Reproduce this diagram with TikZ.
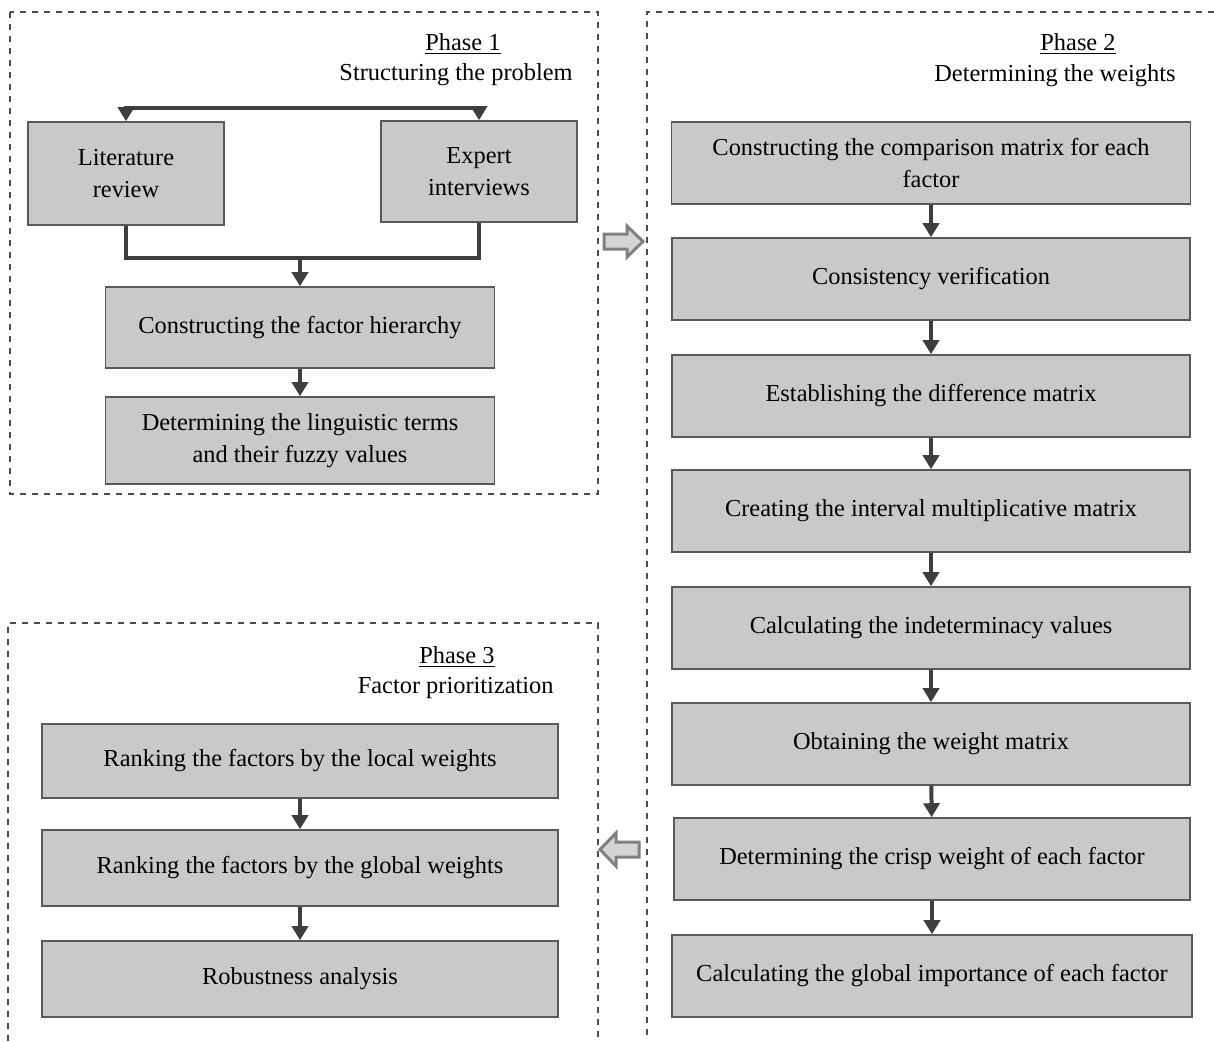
\documentclass[tikz,border=0pt]{standalone}
\usepackage{fontspec}
\setmainfont{Liberation Serif}
\usepackage{tikz}
\usetikzlibrary{arrows.meta}

\definecolor{boxgray}{RGB}{200,201,203}
\definecolor{linkgray}{RGB}{62,62,62}

\begin{document}
\begin{tikzpicture}[x=0.5pt,y=-0.5pt,
    >={Triangle[length=7pt,width=8pt]},
    stage/.style={rectangle,fill=boxgray,draw=black!65,line width=0.8pt,align=center,
      font=\fontsize{12.2}{16}\selectfont},
    link/.style={->,line width=2pt,draw=linkgray},
    joint/.style={line width=2pt,draw=linkgray},
    frame/.style={draw=black!70,line width=0.6pt,dash pattern=on 3pt off 3pt},
    title/.style={inner sep=0pt,font=\fontsize{12.2}{16}\selectfont},
    blockarrow/.style={fill=black!17,draw=black!50,line width=1.5pt,line join=miter}]
    \useasboundingbox (0,0) rectangle (1214,1041);

    % phase frames
    \draw[frame] (10,12) rectangle (598,494);
    \draw[frame] (647,1035) -- (647,12) -- (1214,12);
    \draw[frame] (8,1041) -- (8,623) -- (598,623) -- (598,1041);

    % phase 1
    \node[title] (p1) at (463,44) {\underline{Phase 1}};
    \node[title,anchor=east] (p1t) at (573,75) {Structuring the problem};
    \node[stage,minimum width=98pt,minimum height=51.5pt] (lit) at (126,173.5) {Literature\\review};
    \node[stage,minimum width=98pt,minimum height=50.5pt] (exp) at (479,171.5) {Expert\\interviews};
    \node[stage,minimum width=194.5pt,minimum height=40.5pt] (hier) at (300,327.5) {Constructing the factor hierarchy};
    \node[stage,minimum width=194.5pt,minimum height=43.5pt] (ling) at (300,440.5) {Determining the linguistic terms\\and their fuzzy values};
    \coordinate (split) at (300,108);
    \coordinate (merge) at (300,258);

    \draw[link] (split) -| (lit);
    \draw[link] (split) -| (exp);
    \draw[joint] (lit) |- (merge) -| (exp);
    \draw[link] (merge) -- (hier);
    \draw[link] (hier) -- (ling);

    % phase 2
    \node[title] (p2) at (1078,44) {\underline{Phase 2}};
    \node[title,anchor=east] (p2t) at (1176,76) {Determining the weights};
    \node[stage,minimum width=259.5pt,minimum height=41pt] (w1) at (931,163) {Constructing the comparison matrix for each\\factor};
    \node[stage,minimum width=259pt,minimum height=41pt] (w2) at (931,279) {Consistency verification};
    \node[stage,minimum width=259pt,minimum height=41pt] (w3) at (931,396) {Establishing the difference matrix};
    \node[stage,minimum width=259pt,minimum height=41pt] (w4) at (931,511) {Creating the interval multiplicative matrix};
    \node[stage,minimum width=259pt,minimum height=41pt] (w5) at (931,628) {Calculating the indeterminacy values};
    \node[stage,minimum width=259pt,minimum height=41pt] (w6) at (931,744) {Obtaining the weight matrix};
    \node[stage,minimum width=258pt,minimum height=41pt] (w7) at (932,859) {Determining the crisp weight of each factor};
    \node[stage,minimum width=260pt,minimum height=41pt] (w8) at (932,976) {Calculating the global importance of each factor};

    \foreach \a/\b in {w1/w2,w2/w3,w3/w4,w4/w5,w5/w6,w6/w7,w7/w8}
      \draw[link] (\a) -- (\b);

    % phase 3
    \node[title] (p3) at (457,657) {\underline{Phase 3}};
    \node[title,anchor=east] (p3t) at (554,688) {Factor prioritization};
    \node[stage,minimum width=258pt,minimum height=37pt] (r1) at (300,761) {Ranking the factors by the local weights};
    \node[stage,minimum width=258pt,minimum height=38pt] (r2) at (300,868) {Ranking the factors by the global weights};
    \node[stage,minimum width=258pt,minimum height=38pt] (r3) at (300,979) {Robustness analysis};

    \draw[link] (r1) -- (r2);
    \draw[link] (r2) -- (r3);

    % block arrows between phases
    \draw[blockarrow] (604,234) -- (627,234) -- (627,226) -- (643,241.5) -- (627,257)
      -- (627,249) -- (604,249) -- cycle;
    \draw[blockarrow] (639,842) -- (616,842) -- (616,833) -- (600,849.5) -- (616,866)
      -- (616,857) -- (639,857) -- cycle;
  \end{tikzpicture}
\end{document}
